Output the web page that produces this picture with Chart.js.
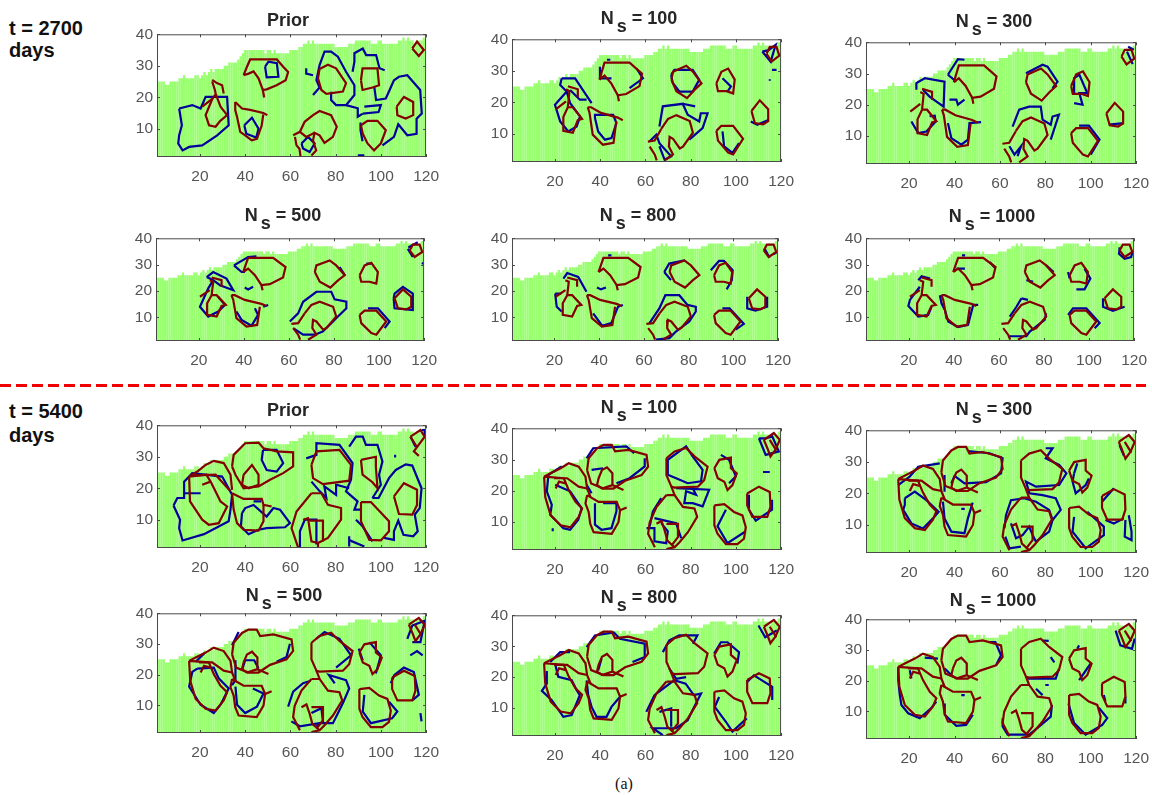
<!DOCTYPE html>
<html><head><meta charset="utf-8">
<script src="https://cdn.jsdelivr.net/npm/chart.js@4"></script>
<style>
html,body{margin:0;padding:0;background:#fff;width:1152px;height:795px;overflow:hidden;font-family:"Liberation Sans",sans-serif}
canvas{position:absolute}
.t{position:absolute;transform:translate(-50%,-50%);font-weight:bold;font-size:18px;color:#262626;white-space:nowrap;line-height:20px}
.t span{position:relative;top:8px;margin:0 5px 0 3px}
.side{position:absolute;left:9px;font-weight:bold;font-size:20px;color:#111}
#dash{position:absolute;left:0;top:384px;width:1146px;height:3px;background:repeating-linear-gradient(90deg,#f00000 0 11px,transparent 11px 16px)}
#cap{position:absolute;left:624px;top:784px;transform:translate(-50%,-50%);font:16px "Liberation Serif",serif;color:#111}
</style></head><body>
<div class="side" style="top:17px;line-height:22px">t = 2700<br>days</div>
<div class="side" style="top:399px;line-height:24px">t = 5400<br>days</div>
<div id="dash"></div>
<div id="cap">(a)</div>
<script>
const xTicks=[20,40,60,80,100,120];
const yTicks=[10,20,30,40];
const gridTop=[25,25,25,25,24,24,25,25,25,25,
26,26,27,26,26,26,26,27,27,26,
27,28,27,28,29,28,29,29,29,29,
30,30,31,31,31,31,32,33,34,35,
35,35,35,35,35,35,35,35,34,35,
35,34,35,34,34,34,34,34,34,35,
35,35,35,36,36,37,37,38,37,38,
37,37,37,37,37,37,37,37,37,36,
36,36,36,36,36,37,37,37,38,38,
38,38,38,38,38,37,37,37,38,38,
37,37,37,37,37,37,37,38,38,39,
38,39,38,38,37,38,38,38,39,39];

const redPrior2700=[
[27,21,25.5,19.5,22.5,14.3,24,11.1,26.9,10.6,29,12.5,32,14.3,29.1,17,27,21],
[25.4,25.5,27.5,24.5,29.8,23.8,30.5,21.2],[25.4,25,26.6,22.3,27,21],[21,17,25.4,19.5],
[39.3,27,40.8,29.7,42.2,32,54,32,56.8,29.7,59,28,57.9,25.4,53.9,23.8,49.5,22.5,47.8,22.3,45.9,26,43.7,28.2,41.5,27.5,39.3,27],[47.8,22.3,48.4,19.9],
[35.6,18.5,38.6,16.4,42.2,16,48,15,49.8,14.3],[48,14.5,47.3,11,45.2,6.8,42.9,6.3,40,7.9,37.8,9,36.4,13.8,35.6,15.9,35.6,18.5],
[61.2,7.9,64.2,9,66.3,12.2,70,14.3,72.9,15.6,78,14.3,80.5,10.6,78.8,7.4,75.1,5.5,72.9,7.9,70.7,8.7,70,6.3,71.4,3.1,69.3,1.5],[62,7.4,62.7,4.7,64,3.6,64.5,1],[64.2,9,67,7.4,70.7,8.7],
[72.2,26,72.9,29,76.6,30.3,80.2,29.2,84.6,24.5,83.2,21.8,75.9,21.1,73.7,22.3,72.2,26],
[91.2,25.4,91.9,29.2,98.5,29.2,99.2,23.8,96.3,23.1,91.9,22.3,91.2,25.4],
[91.2,11.1,94.1,12.5,98.5,12.5,102.2,9.5,100,5.3,97,3.1,94.1,5.3,92,8.4,91.2,11.1],
[107,17,110.2,20.1,114.3,18.5,114.3,14.3,111,13.2,107.3,14.3,107,17],
[113.9,35.5,116,37.7,119,35,116.8,33.1,113.9,35.5]];

const redPost2700=[
[25.7,18.4,23.7,15.3,23.7,10.9,27.9,10.3,30.1,14.3,32,14.7,27.9,18.4,25.7,18.4],
[25.7,25.1,30.1,24.1,30.1,21.6],[24.9,24.1,26.4,23.5,25.7,18.4],[20.5,17.8,24.9,20.3],
[39.7,27.2,41.9,32.6,53,32.6,58.5,29.1,57.4,25.1,51.5,22.6,47.8,22.2,44.9,26,41.9,28.5,39.7,27.2],[47.8,22.2,48.3,20.3],
[34.5,18.4,36,18.4,40.4,16.6,47.8,15.1,50,14.3],[47.1,14,45.9,7.1,41.2,6.5,36.7,9.7,35.3,16.6,34.5,18.4],
[67,11.5,70,14.7,73.7,15.9,79.6,14,81,10.3,76.6,5.9,75.2,5.3,72.2,8.4,70.7,9,70.4,5.9,72.2,3.4,68.5,1.5],[61.1,7.5,64.1,7.8,67,11.5],[61.9,5.9,64.1,3.4,65,1.5],
[71.5,27.2,72.2,29.7,78.1,31.6,81,29.7,84.8,26,81.8,24,78.4,21.3,73.7,23.5,71.5,27.2],
[91.4,26,93.6,29.7,96.6,30.7,99.5,27.2,98.8,22.8,95.8,23.5,92.1,23.5,91.4,26],
[91.4,10.9,93.6,12.5,98.8,12.5,103.2,8.4,98.8,3.4,96.6,4,92.1,7.8,91.4,10.9],
[106.9,17.2,110.6,20.6,114.3,17.8,114.3,14,112.1,13,108.4,13.4,106.9,17.2],
[113.6,35.4,115,37.6,118,37.6,119.2,34.8,115.8,32.9,113.6,35.4]];

const redPrior5400=[
[15.2,23.7,18.8,25.3,22.5,27.4,26.1,28.7,30.5,28,33.5,24.3,34.2,19.5],
[15.2,23.7,15.6,15.8,21,10,23.9,8.4,28.3,8.9,32,14.2,29.1,15.8,24.7,22.1,22.8,24.3,15.2,23.7],
[15.9,24,26.9,24.3,33.5,19],[21,21.1,24.7,22.1],
[34.2,26.9,34.9,30.6,40,34.3,45.9,34.5,48.1,32.7,53.9,31.7,61.2,31.4,61.2,26.9,56.8,24.8,51,22.7,45.9,20.6,39.3,20,35.7,24.3,34.2,26.9],
[39.3,24.3,43,27.4,45.9,24.3,45.9,21.1,41.5,20,38.6,21.1,39.3,24.3],
[34.2,18.4,39.3,16.6,47.3,16.6,48.1,14.7,51.7,14.2],[48.1,14.7,48.1,9.5,45.9,6.5,39.3,6.8,36.4,8.9,34.9,13.2,34.2,18.4],
[69.3,18.4,73.7,18.4,76.6,14.7,82.4,13.7,82.4,10,76.6,4.2,72.2,2.6,72.2,1.2],[63.4,1.2,60.5,7.3,62.7,12.6,69.3,18.4],
[65.6,10,67.8,10.5,68.5,7,69.3,3.1,72.2,2.6],[68.5,9.7,74.4,9.7,74.4,3.1],
[69.3,27.4,71.5,31.7,81.7,32.2,86.8,27.4,86,22.4,74.4,21.3,70,23.2,69.3,27.4],
[91.2,29,97.8,30,97.8,26.9,98.5,20,96.3,21.9,91.9,24.3,91.2,29],
[91.2,15.6,95.6,15.6,103.6,9.5,103.6,6.3,100,3.4,94.9,3.6,91.2,9.5,91.2,15.6],
[105.8,17.4,110.2,21.6,116,19.5,116,14.7,113.9,11.6,108,11.8,105.8,17.4],
[113.1,36.4,117.5,38.5,119.4,36.4,114.6,31.7,116.8,30.3],[113.1,36.4,116,33]];

const redPost5400=[
[15.2,24.5,18.1,25.6,22.5,27.2,26.1,28.8,30.5,27.7,33.5,24.5,34.2,20.7,35.7,18],
[15.2,24.5,15.7,18,18.1,12.1,22.5,8.9,26.9,8.3,30.5,11.6,32,14.3,29.1,16.4,26.1,20.2,23.9,24,15.2,24.5],
[19.6,24,25.4,24,30.5,21.3,34.2,20.7],[20.3,20.7,21.8,22.9,24.7,22.3],
[34.2,26.6,34.9,30.4,38.6,33.6,41.5,34.7,45.1,34.7,46.6,32.6,52.5,33.1,60.5,31.5,61.2,27.7,58.3,25,51,23.2,45.9,20.7,41.5,20.7,36,22.3,34.2,26.6],
[39.3,24,40.8,26.6,43,27.5,45.4,25.6,45.4,21.8,40.8,20.7,38.6,21.8,39.3,24],[45.4,21.8,50.3,20.2],
[34.2,18.6,39.3,16.4,47.3,16.4,48.8,13.7,51.7,14.6],[48.8,13.7,48.1,9.9,45.1,6.2,37.1,6.7,35.6,9.4,34.9,13.2,33.5,15.9,34.2,18.6],
[69.3,18.6,72.9,18.6,76.6,14.8,81.7,14.3,82.9,11.6,78.8,6.7,75.1,3.5,72.9,1.9,69.3,1.3],[64.2,1.9,61.2,6.2,61.9,9.9,64.9,14.8,69.3,18.6],[72.9,18.6,71.5,21.3],
[64.9,9.4,67.1,10.3,68.5,7.3,69.7,4,72.9,1.9],[69.3,9.4,74.4,9.4,74.4,5.1,71.5,2.4],
[69.3,30.4,72.9,32.6,78,33.7,81.7,31,87.5,27.7,86,23.4,83.2,21.3,72.9,21,71.5,21.3,69.3,25,69.3,30.4],
[90.5,27.2,92.7,29.9,97.8,30.6,97.8,27.2,100.4,25.6,98.5,21.8,96.3,20.2,94.9,22.9,92,24,90.5,27.2],
[90.5,15.3,94.9,15.7,99.2,13.2,102.9,12.1,104.4,8.3,103.6,4.6,100.7,2.9,95.6,2.9,91.9,6.2,90.5,8.9,90.5,15.3],
[105,19.1,110.2,21.3,115,19.6,115.3,14.8,113.9,11.6,107.3,11.6,105,15.3,105,19.1],
[112.4,36.3,116.8,38.5,119.4,36.3,117.5,33.1,115.3,31,113.9,33.7,112.4,36.3],[115,36.3,117.9,32.9]];

const bluePrior2700=[
[10.8,16.4,16.6,17.5,20.3,16.4,22.5,20.1,32,20.1,32.7,11.1,27.6,7.9,21,4.7,15.2,4.2,12.3,3.1,10.4,5.3,10.8,7.9,12,11.1,10.8,16.4],
[48.8,29.7,50.3,31.3,54,30.8,54.7,26.5,49.5,26.3,48.8,29.7],
[39.6,11.1,43,13.5,45.9,10,44.9,7.2,40.5,8.4,39.6,11.1],
[67,29.2,67,27.5,70,27],
[70,20.7,72.9,23.1,71.5,25.4,72.9,30.2,75.1,34.5,78,34.5,81,32.9,84.6,28.1,88.3,23.8,88.3,20.7,84.6,17.5,80.2,17.5,78,19.1,78,21.7],
[87.5,28.1,88.3,31.3,88.3,34,92,35.5,93.5,33.4,97.9,33.4,99.4,29.2,101.7,28.6],
[97.1,23.3,97.9,19.1,102.2,19.6,105.8,25.4,108,26.5,111.7,27,117.4,22.3,118.1,14.8,115.8,13.2,115.8,8.4,111.7,7.9,107.7,11.4,105.8,7.4,100.7,4.7],
[92.7,17,100,17.5,99,15.3,92,14.8],[84.6,17.5,89.8,16.5,89.8,13.8,92,14.8],[91,12,91,9.5,91.9,6],
[89.8,1.5,92.7,1.5],
[64.9,5.3,67.8,7.4,70.7,5.3,68.5,2.6,65.6,3.7,64.9,5.3]];
const blueN100a=[
[23,27.6,28.9,27.6,36.2,19.7],[23,27.6,22.3,25.5,25.2,23.4,20,19.2,22.3,13.9,25.9,10.7,29.6,12.3,31.1,15.5,26.7,19.7,25.2,23.4],
[26.7,23.9,31,20.8,34,20.8],
[37.7,15,39.1,10.7,42.1,8.1,45,8.6,47.2,13.4,45.7,16,37.7,16,37.7,15],
[39.9,31.3,39.9,27.6,45,27.6],[43,33.5,44.5,33.5],[56,30.8,58.9,27.6,53,24.5],
[71.4,28.7,72.8,30.3,80.9,30.3,83.8,27.1,80.9,23.4,75,23.4,72.1,26.1,71.4,28.7],
[94.1,27.6,97.8,25,96.3,23.4],[94.1,10.7,94.8,6,98.5,3.9,101.4,7],[106.6,13.9,109.5,12.8,114.6,14.4],
[66.2,12.3,67.7,18.7,76.5,19.5,78.7,16,83.8,13.9,84.5,16.5,87.5,16.5,85.3,11.8,79.4,8.1],[76.5,19.5,82,18.7],
[61.9,7.6,64.8,9.7,66.2,7,71.4,2.8,68.5,1.7,66.2,6],
[111.7,36.1,114.6,36.6,117.6,38.2,115.4,32.9,111.7,36.1],[116,30.3,118,30.3],[115,27.3,115,26.8]];
const blueN300a=[
[23.2,24.8,23.2,26.9,26.9,28.5,35.6,27.4,35.2,19.4,29,22.6,26.1,24.8],
[37.1,29.6,41.5,34.6,44.4,34.4],[37.1,29.6,40.8,27.4],
[37.8,21.6,40.8,21.6,41.5,20,44.4,21.6],
[21,14.6,24,10.9,27.6,11.4,31.7,14.6,31.3,16.5,29,16.3],
[37.1,14.1,38.6,9.3,43,7.2,45.9,8.8,46.6,14.1,51.7,14.4],
[71.5,30.1,78.8,32.8,81,32.2,85.4,27.4,83.2,25.3],
[92.7,23.2,92.7,28.5,95,29.6,98.5,23.7,95,23.7,96.4,20,92.7,20.5],
[94.9,13.3,99.2,13.3,103.9,8.8,102.2,6.7,100,4],[108,13.6,114.6,14.1],
[65.6,13,68.5,18.4,72.9,19.4,78,19.4,78.8,15.2,82.4,13.6,83.2,16.2,86,16.8,82.4,8.8],
[64.2,6.7,66.4,4,69.3,6.7,67.8,3.5],[116.5,38.6,119,37.6],[116,37,118.5,33]];
const blueN500a=[
[23.5,25.3,26.4,27.2,32.3,24.7,35.3,20.3,29.4,22.2,26.4,24.1,23.5,25.3],
[26.4,24.1,24.2,21,20.5,14,24.2,10.3,28.6,12.2,31.6,14.7,28.6,17.8],
[35.6,29.7,41.9,32.9,45.6,33.1],[35.6,29.7,39,27.2,40.5,27.2],
[40.4,21.3,41.9,20.6,44.1,21.6],
[44.9,13.4,46.3,10.9,43.4,6.8,39,9,36.7,12.2],[48.6,14,50.8,14.7],
[60.4,8.4,64.1,11.5,66.3,15.9,72.2,19.7,78.8,19.7,80.3,16.8,85.5,15.9,85.5,13.4,81.1,9.7,79.6,8.4,75,4.6,71.5,3.4,66.3,3.4,61.9,5.9],
[95.1,13.4,99.5,13.4,104.7,8.4,102.5,5.9],
[106.5,17.2,106.9,13.4,115,12.8,115,19,110.6,21.6,106.9,19,106.5,17.2],
[94.4,30.4,96.6,30.4],[82.5,29.1,84.8,26],[112.8,36,115,32.9],[113,36.5,117.2,38.5],[119,30.6,120,30.3]];
const blueN800a=[
[24,24.7,25.7,26.8,30.6,25.3,34.3,19.7],
[20.3,19,21,14,23.2,12.2],[20.3,19,23,19],
[39,21.3,40.8,20.6,43,21.3],[44,33.5,45.5,33.5],
[37.3,11.5,41.3,6.8,45.4,7.8,48.4,14,50.6,14.7],
[62.5,7.8,66.9,13.4,69.6,18.4,75.8,18.4,79.5,14.7,83.2,14,83.2,12.2,80.3,8.4,74.3,4.6,71.4,2.1,65.4,1.5],
[69.1,27.2,71.3,30.4,78.3,31.6],[69.1,27.2,72.1,24.1],
[89.9,27.9,93.6,31.4,95.8,31.4,99.7,27.9,99.3,24.1,97,20.6],
[95.1,13.4,98.3,13.4,104.7,7.5,101,5.3],
[106.2,17.8,106.2,13.4,109.9,12.5,115.1,14,115.1,17.8],
[114,36,116.2,32.6],[119.5,34.8,118,34]];
const blueN1000a=[
[24.2,24.1,25.7,25.6,29.4,24.7],
[24.9,21.6,20.5,16.6,19.8,14.3,24.2,10.3,28.6,10.9,30.1,14],
[33.8,18.4,34.5,15.3,36,12.8,37.5,8.4,41.9,6.3,46.3,7.1,48.6,14.7,50.8,14.7],
[70,17.2,72.9,16.6],[70,17.2,67.8,14,64.8,10.3],[81,11.5,80.3,9,73.7,4.6,72.2,2.8,64.1,2.8],
[72.2,24.1,75.2,23.5],[81,29.7,84.3,27.2],
[90.7,27.2,91.4,24.7],[98,28.5,100.6,24.7,98,20.6,94.4,20.6],
[90.7,10.9,92.9,13.4,98.8,13.4,104.7,7.8,102.5,5.8],
[106.2,17.2,106.2,14,110.6,12.5,115.8,14],
[113.6,36.6,113.3,34.1,115.8,32.2,118.7,32.9,119.5,35.4],
[41.2,28.5,44.9,28.5],[43.6,33.5,45,33.5],[55.9,31,58.5,28.5]];

const bluePrior5400=[
[8.3,14.5,10,16.9,13,16.9,13,22.1,16.6,24.8,29.8,23.7,34.2,17.9,33.5,13.2,32.7,9.5,21.8,5.4,12.3,3.4,10.8,7.3,11.2,10,8.3,14.5],[13,18.4,20.3,18.4],
[47.9,32.2,47.3,29,49.5,25.8,53.9,25.3,56.8,28,53.9,32.2,47.9,32.2],
[38.6,12.1,40,13.7,43.7,14.7,49.5,11,52.5,13.7,55.4,13.2,59.8,8.9,57.6,7.6,49.5,7.3,45.9,6.8],[43.7,15.8,47,15.8],[38.6,12.1,38.1,7.9,41.5,5.4,45.9,6.8],
[64.2,1,64.2,6.3,66.4,10,71.5,10,71.5,2.1],
[67,29.5,71.5,30.6,71.5,34.3,81.7,33.8,87.5,28,86.8,22.7,84.6,19,89.7,15.8,88.3,13.2,91,13.2],[89,10,91.9,7.9,96.3,3.1],
[69.3,22.1,73,19,75.9,16.9,75,20.6,80.2,17.9,80.2,21.1,86,20],
[86,33.2,89,36.4,92,36.4,93.4,33.8,98.5,33.8,100.7,28.5,99.2,24.3,100,21.1,96.3,16.9],
[96.3,16.9,99,16.9,103.6,23.2,106.6,25.8,111,27.6,113.9,27.2,118,20,117.2,13.7,115,11.6,116.3,6.3,114.3,4.7,110,5.2,107.7,9.7,105.8,6.3,105.8,3.6,101.4,4.2],
[86,4.7,86,1.5],[86,3.5,92.7,1.5],[113.1,36.4,115.3,33.2],[118,38.5,119.4,38.5,119.4,36.5],[106.3,30.6,106.3,29.8]];
const blueN100b=[
[17.1,25.1,23,27.8],[17.1,25.1,16.4,19.8,18.6,15.5,17.9,12.3,23.7,8,26.7,7.5,30.3,10.7,31.8,14.4,26.7,19.8,20.1,21.9],
[34,30.4,36.9,33.6,51.6,34.2,55,32],[59.7,30.4,59.7,27.8,53,24,47.2,22.4],[36.2,26.7,41.3,27.2],
[37.7,16,37.7,9.1,40.6,7.5,45,8,47.2,13.4,47.2,16,41.3,16],[34,21.9,36.2,19.2],
[67,17.6,63.3,13.4,61.9,8.6],[64,11.2,73.6,9.6,75.8,4.8],
[60.5,8,64,8,64,3.8,69.2,3.2,69.9,7,67,9.6],
[73.6,20.8,88.2,20.3,85.3,15,80.9,16,77.2,16,78,19.8,82.4,18.7,80.9,20.8],
[69.9,25.1,69.9,29.9,78,34.2,80.9,31,85.3,26.7,84.6,23,78.7,22.4,73.6,24,69.9,25.1],
[93.4,31.5,97,29.9,100,24.6,97,22.4],
[95.6,13.9,91.9,8.6,96.3,3.2,104.4,7],
[105.8,18.7,105.8,13.9,108.8,10.4,116,13.9,116,17.1],
[110.2,36.8,113.2,31.5,119,32.6,116.1,37.4,113.2,36.8,110.2,36.8],
[112,26,115,26],[19,8,19,7]];
const blueN300b=[
[15.2,22.6,20.3,25.3,24,28.4,33.5,29.5],
[18.1,18.4,18.1,16.3,17.4,14.7,21,10.4,26.1,8.8,30.5,12,33,14.1,27.6,17.8,22.5,20.5,18.1,18.4],
[35.6,25.8,35.6,20.5],[38.6,23.1,40,25.5,44.4,23.1,53.9,23.5,60.5,26.3,61.2,31.1,55.4,32.7,45.9,33.4],
[34.9,17.3,35.6,12,38.6,7.8,44.4,7.3,45.9,12,48,17],[43,15,44.5,15],
[62,8.8,62.7,13.1,64.9,17.8,70.7,18.4,75.9,17.3,81.7,14.7,83.2,11.5,81.7,7.8,75.9,4.6],
[64.9,10.4,67.1,5.7,70,6.7,72.9,9.4,74.4,6.7,75.9,4.6],[62.4,6.2,64.2,2.5,69.3,3],
[80.2,34.3,83.2,34.3,80.2,31.1,86.1,29,89.3,26.3,86.1,22.6,75.9,22.1,71.5,23.7,73,20,78.8,19.4,84.6,18.4,86.8,14.7,83.2,11.5],
[92.7,26.3,92,23.7,93.4,20,97.8,22.6,99.2,24.7],[94.1,29.5,92.7,26.3],
[92.7,12.5,92,7.8,97.8,2.5,105.8,6.7,105.8,9.4,98.5,14.1],
[105,17.3,110.2,21.6],[106.5,11.5,110.2,10.4,114.6,12],
[115.3,11.5,115,6.2,118,5.1,118,7.8,116.8,13],[112.7,35.3,114.6,32]];
const blueN500b=[
[18.8,22,26.1,22.3,28.3,18.8,32.7,15.5,29.1,10.2,26.1,7.5,20.3,10.2,15.2,16.1,16.6,20.9,18.8,22],[18.1,24.2,22,27],
[34.2,29.6,37.1,33.9],[35.7,24.7,35.7,18.2,34.2,16.6],[38.6,21.5,40,24.7,44,24.7,45.9,22],
[53.9,24.2,58.3,25.8,59.8,30.1],
[35.7,16.1,36.4,10.2,40,7.5,45.2,9.6,48.1,13.9,43.4,15.5],
[59,9.6,61.2,14.5,65.6,17.2,69,18],
[60.4,4.8,64.2,3.2,72.9,4.2,78.8,4.2,83.2,10.7,86,15.5,84.6,18.2,77,19.9,79.6,17.2],
[69.3,7.5,73.7,9.1,74.4,4.8,71.5,3.2],
[71.5,31.7,75.1,33.9,81.7,31.7,86.8,26.3,80.2,22.3],
[90.2,28.5,92,24.7],[94.9,30.6,100,26.3,97.8,20.4],
[92.7,13.4,92,8,95.6,4.2,105,5.8,107.3,8,103.6,11.2],
[104.4,17.2,106,19.9,110.2,22.3,114.6,20.9,116.8,13.4,113.9,11.6],
[117.5,7.5,118,4.8],[111.7,31.7,113.9,36,119.4,37.6,117.5,30.6,113.9,30.6],[113,26.3,116,27.7,118.5,26.3]];
const blueN800b=[
[17.9,24.9,22.3,28.1,26.7,28.1],
[20,24.4,21.5,20.1,27.4,19,29.6,15.8,31,14.2,27.4,7.8,23.7,7.2,18.6,12.6,14.2,15.6,16.4,17.9,16.4,22],
[34,29.7,37.7,33.5,46,34.5,48.7,32.4,59.7,30.8,59.7,26.5,54.3,24.9],[40.6,26,39.1,22.2],
[34,19,34.7,14.2,36.2,10.4,38.4,7.2,42.8,7.2,45,10.4,48.7,13.6],
[60.4,8.8,64,14.2,72.7,19,77.8,17.9,81.4,14.2,84.6,14.7,80.9,9.4,78.7,6.1,73.6,3.5,63.3,3.5,67.7,1.3],
[66.2,8.8,71.4,9.9,71.4,4],
[67.7,28.1,70.6,31.9,75,33.5,83,33.5,81,30.8],[70.6,22.8,73.6,19.5,78,20],
[90.4,27.6,93.4,31.3,96.3,31.3,101.4,28.1,100.7,24.4],
[92.6,13.6,90.7,10.4,95.6,5.6,98.5,2.4,104.8,6.7],
[105.1,18.5,108,20.6,116.1,16.9,116.1,12.6],[110,36.7,113,32.9,118.1,35.1]];
const blueN1000b=[
[15.2,24.5,15.2,20.2,15.9,15.3,16.6,12.1,19.6,9.4,24.7,7.8,29.8,11.1,32,13.2],
[20.3,23.4,21,20.7],[26.9,27.5,32.7,27.2],[35.7,24,39.3,21.3],
[55.4,32.6,58,32.6,60.5,28.3,58.3,25],
[35.7,12.6,35.7,8.9,40.8,5.3,45.1,5.6,48.1,8.9],[43,15.3,44.5,15.3],
[61.2,7.8,61.2,5.1,63.4,2.4,72.9,2.4,76.6,4.6,82.4,8.3,82.9,12.1],
[75.9,17.4,78.8,15.3],[80,18.6,81.5,18.6],
[71.5,20.7,84.6,20.7,86,23.9],[78.8,33.1,81.5,33],[82.4,27.7,84,26],
[94.1,30.4,94.9,31.5],[100,25.6,94.9,20.2],
[90.2,12.6,92.7,6.2,97.8,2.4,105.1,5.6,107.3,7.8,103.6,11.2],
[105.8,15.3,106.5,13.2],[115.3,14.8,115.3,12.6],[111,36.3,113.1,31.5,118.2,30.4,119.4,33.7]];

const panelTitles=["Prior","100","300","500","800","1000","Prior","100","300","500","800","1000"];
const panelRed=[redPrior2700,redPost2700,redPost2700,redPost2700,redPost2700,redPost2700,redPrior5400,redPost5400,redPost5400,redPost5400,redPost5400,redPost5400];
const panelBlue=[bluePrior2700,blueN100a,blueN300a,blueN500a,blueN800a,blueN1000a,bluePrior5400,blueN100b,blueN300b,blueN500b,blueN800b,blueN1000b];

/* page layout: plot rectangle [left,top,right,bottom] and title centre [x,y] */
const plotBoxes=[[157,34,427,157],[512,39,782,162],[866,42,1137,164],[156,238,425,341],[512,238,779,341],[866,238,1135,341],
[157,425,427,548],[512,428,782,550],[866,430,1137,553],[157,613,427,733],[512,615,782,736],[866,619,1137,739]];
const titleCentres=[[288,20],[639,18],[994,21],[283,215],[638,215],[992,216],[288,410],[639,407],[994,409],[284,595],[639,597],[993,600]];

const GREEN='#98ff6e',BLUE='#00009c',RED='#840000',AX='#4a4a4a',LBL='#555555';
const toPts=f=>{const o=[];for(let i=0;i<f.length;i+=2)o.push({x:f[i],y:f[i+1]});return o;};
const lineSet=(flat,c,order)=>({type:'line',data:toPts(flat),borderColor:c,borderWidth:2.2,pointRadius:0,pointBorderWidth:0,pointHoverRadius:0,tension:0,fill:false,order,borderJoinStyle:'miter',clip:true});

const frame={id:'frame',afterDatasetsDraw(ch){
  const {ctx,chartArea:a,scales:{x,y}}=ch,L=3;
  ctx.save();ctx.strokeStyle=AX;ctx.lineWidth=1;
  ctx.strokeRect(a.left+.5,a.top+.5,a.right-a.left-1,a.bottom-a.top-1);
  ctx.beginPath();
  xTicks.forEach(v=>{const p=Math.round(x.getPixelForValue(v))+.5;ctx.moveTo(p,a.top);ctx.lineTo(p,a.top+L);ctx.moveTo(p,a.bottom);ctx.lineTo(p,a.bottom-L);});
  yTicks.forEach(v=>{const p=Math.round(y.getPixelForValue(v))+.5;ctx.moveTo(a.left,p);ctx.lineTo(a.left+L,p);ctx.moveTo(a.right,p);ctx.lineTo(a.right-L,p);});
  ctx.stroke();ctx.restore();
}};

/* canvas margins round each plot; EXTRA compensates the 4px the layout holds back at the top and right */
const ML=34,MR=18,MT=9,MB=32,EXTRA=4;
plotBoxes.forEach((b,i)=>{
  const c=document.createElement('canvas');
  const W=b[2]-b[0]+ML+MR+EXTRA,H=b[3]-b[1]+MT+MB+EXTRA;
  c.width=W;c.height=H;c.style.left=(b[0]-ML)+'px';c.style.top=(b[1]-MT-EXTRA)+'px';c.style.width=W+'px';c.style.height=H+'px';
  document.body.appendChild(c);
  const d=document.createElement('div');d.className='t';
  d.style.left=titleCentres[i][0]+'px';d.style.top=titleCentres[i][1]+'px';
  d.innerHTML=panelTitles[i]==='Prior'?'Prior':'N<span>s</span>= '+panelTitles[i];
  document.body.appendChild(d);
  const datasets=[
    ...panelRed[i].map(f=>lineSet(f,RED,0)),
    ...panelBlue[i].map(f=>lineSet(f,BLUE,1)),
    {type:'bar',data:gridTop.map((v,k)=>({x:k+1,y:v})),backgroundColor:GREEN,borderWidth:0,barPercentage:0.99,categoryPercentage:1,order:2,grouped:false}
  ];
  new Chart(c,{data:{datasets},plugins:[frame],options:{
    responsive:false,animation:false,devicePixelRatio:1,
    layout:{autoPadding:false,padding:{left:0,right:MR,top:MT,bottom:0}},
    plugins:{legend:{display:false},tooltip:{enabled:false}},
    scales:{
      x:{type:'linear',min:1,max:120,offset:false,grid:{display:false,drawTicks:false},border:{display:false},
        afterBuildTicks:s=>{s.ticks=xTicks.map(v=>({value:v}));},
        afterFit:s=>{s.height=MB;},
        ticks:{color:LBL,font:{family:'"Liberation Sans"',size:15.5},padding:10,maxRotation:0,autoSkip:false}},
      y:{type:'linear',min:1,max:40,grid:{display:false,drawTicks:false},border:{display:false},
        afterBuildTicks:s=>{s.ticks=yTicks.map(v=>({value:v}));},
        afterFit:s=>{s.width=ML;},
        ticks:{color:LBL,font:{family:'"Liberation Sans"',size:15.5},padding:4,autoSkip:false}}
    }}});
});
</script>
</body></html>
